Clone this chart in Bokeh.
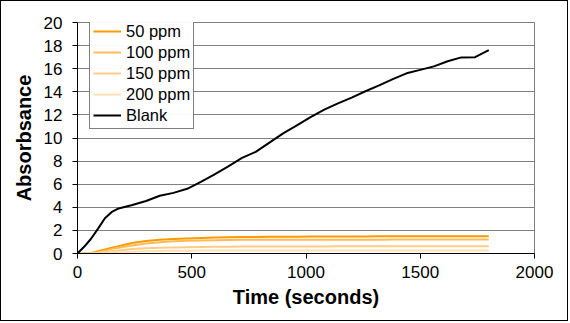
from bokeh.plotting import figure
from bokeh.models import Legend, LegendItem, Range1d, FixedTicker
from bokeh.embed import file_html
from bokeh.resources import INLINE

time_s = [0, 30, 60, 90, 120, 150, 180, 210, 240, 300, 360, 420, 480, 540, 600,
          660, 720, 780, 840, 900, 960, 1020, 1080, 1140, 1200, 1260, 1320, 1380,
          1440, 1500, 1560, 1620, 1680, 1740, 1800]

ppm50 = [0, 0, 0.05, 0.2, 0.35, 0.5, 0.63, 0.78, 0.9, 1.08, 1.19, 1.25, 1.3, 1.35, 1.38,
         1.4, 1.42, 1.43, 1.44, 1.45, 1.46, 1.47, 1.47, 1.48, 1.48, 1.48, 1.49, 1.49,
         1.49, 1.5, 1.5, 1.5, 1.5, 1.5, 1.5]
ppm100 = [0, 0, 0.03, 0.12, 0.25, 0.4, 0.5, 0.6, 0.7, 0.87, 0.98, 1.05, 1.1, 1.13, 1.15,
          1.17, 1.18, 1.18, 1.19, 1.19, 1.19, 1.2, 1.2, 1.2, 1.2, 1.2, 1.2, 1.21,
          1.21, 1.21, 1.21, 1.21, 1.21, 1.21, 1.21]
ppm150 = [0, 0, 0.02, 0.06, 0.12, 0.2, 0.27, 0.33, 0.38, 0.45, 0.5, 0.53, 0.55, 0.57, 0.58,
          0.59, 0.6, 0.6, 0.6, 0.61, 0.61, 0.61, 0.61, 0.62, 0.62, 0.62, 0.62, 0.62,
          0.62, 0.63, 0.63, 0.63, 0.63, 0.63, 0.63]
ppm200 = [0, 0, 0, 0.02, 0.05, 0.08, 0.11, 0.14, 0.16, 0.19, 0.21, 0.23, 0.24, 0.25, 0.25,
          0.25, 0.26, 0.26, 0.26, 0.26, 0.26, 0.26, 0.26, 0.27, 0.27, 0.27, 0.27, 0.27,
          0.27, 0.27, 0.27, 0.27, 0.27, 0.27, 0.27]
blank = [0, 0.6, 1.3, 2.15, 3.05, 3.6, 3.9, 4.05, 4.2, 4.55, 5.0, 5.25, 5.6, 6.2, 6.85,
         7.55, 8.28, 8.8, 9.6, 10.4, 11.1, 11.8, 12.45, 13.0, 13.5, 14.05, 14.55, 15.1,
         15.6, 15.9, 16.2, 16.65, 16.98, 17.0, 17.6]

series_names = ["50 ppm", "100 ppm", "150 ppm", "200 ppm", "Blank"]
series_colors = ["#FF9900", "#FFBB55", "#FFCC88", "#FFE0B3", "#000000"]
x_ticks = [0, 500, 1000, 1500, 2000]
y_ticks = [0, 2, 4, 6, 8, 10, 12, 14, 16, 18, 20]

FONT = "Liberation Sans"

p = figure(width=568, height=321, output_backend="svg", toolbar_location=None,
           x_range=Range1d(0, 2000), y_range=Range1d(0, 20),
           min_border_left=76, min_border_right=35, min_border_top=21, min_border_bottom=69)
p.styles = {"border": "1px solid black"}
p.background_fill_color = "white"
p.border_fill_color = "white"
p.outline_line_color = "#808080"
p.outline_line_width = 1

items = []
for name, ys, col in zip(series_names, [ppm50, ppm100, ppm150, ppm200, blank], series_colors):
    r = p.line(time_s, ys, line_color=col, line_width=2)
    items.append(LegendItem(label=name, renderers=[r]))

p.xaxis.ticker = FixedTicker(ticks=x_ticks)
p.yaxis.ticker = FixedTicker(ticks=y_ticks)
p.xgrid.grid_line_color = None
p.ygrid.grid_line_color = "#808080"
p.ygrid.grid_line_width = 1

for ax in (p.xaxis[0], p.yaxis[0]):
    ax.axis_line_color = "black"
    ax.major_tick_line_color = "black"
    ax.major_tick_out = 5
    ax.major_tick_in = 0
    ax.minor_tick_line_color = None
    ax.major_label_text_font = FONT
    ax.major_label_text_font_size = "17px"
    ax.major_label_text_color = "black"
    ax.axis_label_text_font = FONT
    ax.axis_label_text_font_size = "20px"
    ax.axis_label_text_font_style = "bold"
    ax.axis_label_text_color = "black"

p.xaxis.axis_label = "Time (seconds)"
p.yaxis.axis_label = "Absorbsance"
p.xaxis.major_label_standoff = 7
p.yaxis.major_label_standoff = 10
p.xaxis.axis_label_standoff = 5
p.yaxis.axis_label_standoff = 6

legend = Legend(items=items, location=(12, 124), border_line_color="black",
                border_line_width=1, background_fill_color="white",
                label_text_font=FONT, label_text_font_size="16.5px",
                label_text_color="black",
                glyph_width=28, glyph_height=20, label_height=20,
                label_standoff=5, spacing=1, padding=3, margin=0)
p.add_layout(legend, "center")

open("out.html", "w").write(file_html(p, INLINE))
